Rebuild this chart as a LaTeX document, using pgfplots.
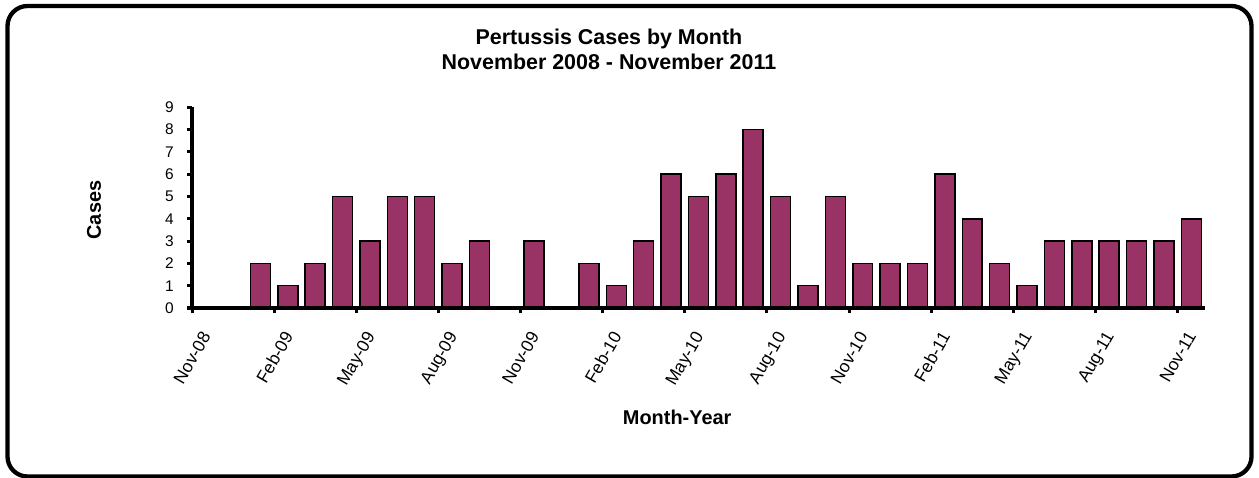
\documentclass[border=0pt]{standalone}
\usepackage{fontspec}
\setmainfont{Liberation Sans}
\usepackage{pgfplots}
\pgfplotsset{compat=1.18}
\usepackage{pgfplotstable}
\definecolor{plum}{HTML}{993366}

% month index (bar centred at k+0.5), cases
\pgfplotstableread{
x cases
0.5 0
1.5 0
2.5 2
3.5 1
4.5 2
5.5 5
6.5 3
7.5 5
8.5 5
9.5 2
10.5 3
11.5 0
12.5 3
13.5 0
14.5 2
15.5 1
16.5 3
17.5 6
18.5 5
19.5 6
20.5 8
21.5 5
22.5 1
23.5 5
24.5 2
25.5 2
26.5 2
27.5 6
28.5 4
29.5 2
30.5 1
31.5 3
32.5 3
33.5 3
34.5 3
35.5 3
36.5 4
}\pertussis

\begin{document}
\begin{tikzpicture}
\path[use as bounding box] (0,0) rectangle (1259bp,478bp);
\draw[line width=4.3bp, rounded corners=20bp] (7.5bp,1.5bp) rectangle (1251.5bp,472bp);
\begin{axis}[
    at={(192bp,170bp)}, anchor=south west,
    scale only axis, width=1013bp, height=200.7bp,
    xmin=0, xmax=37, ymin=0, ymax=9,
    axis x line*=bottom, axis y line*=left,
    axis line style={line width=4.5bp, -},
    tick align=outside, major tick length=5bp,
    tick style={line width=3bp, black},
    xtick={0,3,...,36},
    xticklabels={Nov-08,Feb-09,May-09,Aug-09,Nov-09,Feb-10,May-10,Aug-10,Nov-10,Feb-11,May-11,Aug-11,Nov-11},
    ytick={0,1,...,9},
    /pgf/number format/assume math mode=true,
    xticklabel style={font=\fontsize{17.5}{20}\selectfont, xshift=8.6bp, yshift=-17bp, rotate=60, anchor=north east, inner sep=0pt},
    yticklabel style={font=\fontsize{15.5}{18}\selectfont, anchor=east, inner sep=0pt, xshift=-13bp},
    title={Pertussis Cases by Month\\November 2008 - November 2011},
    title style={font=\bfseries\fontsize{21.5}{24.3}\selectfont, align=center,
        at={(axis description cs:0.4116,1.2586)}, anchor=center},
    xlabel={Month-Year},
    ylabel={Cases},
    label style={font=\bfseries\fontsize{20}{24}\selectfont},
    xlabel style={at={(axis description cs:0.479,-0.543)}, anchor=center},
    ylabel style={at={(axis description cs:-0.0967,0.488)}, anchor=center},
    ybar, bar width=0.73,
    axis on top,
]
\addplot[fill=plum, draw=black, line width=1.5bp] table[x=x, y=cases] {\pertussis};
\end{axis}
\end{tikzpicture}
\end{document}
